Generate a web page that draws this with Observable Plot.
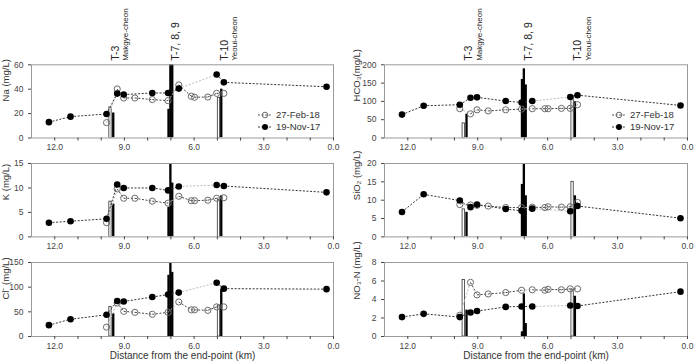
<!DOCTYPE html>
<html>
<head>
<meta charset="utf-8">
<script src="https://cdn.jsdelivr.net/npm/d3@7"></script>
<script src="https://cdn.jsdelivr.net/npm/@observablehq/plot@0.6"></script>
<style>
  body { margin: 0; background: #fff; }
  #chart { position: relative; width: 694px; height: 362px; overflow: hidden; background: #fff;
           font-family: "Liberation Sans", Arial, sans-serif; }
  #chart svg { position: absolute; overflow: visible; }
</style>
</head>
<body>
<div id="chart"></div>
<script>
// Sampling positions along the main stream (km from the end-point)
const kmNov = [12.25, 11.32, 9.77, 9.31, 9.03, 7.80, 7.12, 6.66, 5.03, 4.72, 0.30];
const kmFeb = [9.77, 9.31, 9.03, 8.55, 7.80, 7.12, 6.66, 6.12, 5.98, 5.41, 5.03, 4.72];

// Tributary inflow samples (bars): T-3, T-7/8/9, T-10
const barKm     = [9.60, 9.46, 7.08, 7.00, 6.92, 4.93, 4.81];
const barSurvey = ["Feb", "Nov", "Nov", "Nov", "Nov", "Feb", "Nov"];

// Tributary labels
const tributaries = [
  { name: "T-3", km: 9.55, stream: "Makgye-cheon" },
  { name: "T-7, 8, 9", km: 6.98, stream: "" },
  { name: "T-10", km: 4.87, stream: "Yeoui-cheon" }
];

// Main-stream concentrations, 19-Nov-17 and 27-Feb-18
const naNov   = [13, 17.5, 19.7, 36.4, 35.6, 36.9, 36.9, 40.5, 52, 45.6, 42];
const naFeb   = [12.6, 40.2, 32.8, 32.8, 31.5, 30.6, 43.5, 34.2, 33.4, 33.6, 36.6, 36.6];
const kNov    = [2.9, 3.2, 3.7, 10.7, 10.0, 10.0, 9.5, 10.3, 10.6, 10.4, 9.1];
const kFeb    = [2.9, 9.8, 7.9, 7.9, 7.3, 6.9, 8.3, 7.4, 7.4, 7.5, 7.9, 8.0];
const clNov   = [23, 35, 44, 72, 71, 80, 85, 89, 109, 97, 96];
const clFeb   = [19, 68, 51, 49, 45, 49, 70, 54, 54, 53, 60, 60];
const hco3Nov = [64, 88, 91, 110, 111, 101, 97, 101, 112, 117, 89];
const hco3Feb = [80, 66, 77, 74, 77, 79, 80, 80, 80, 81, 81, 91];
const sio2Nov = [6.8, 11.6, 9.9, 8.1, 8.8, 7.6, 7.1, 7.7, 7.0, 8.4, 5.1];
const sio2Feb = [8.8, 8.7, 8.6, 8.4, 8.0, 8.0, 8.1, 8.0, 8.2, 8.1, 8.2, 9.4];
const no3Nov  = [2.1, 2.45, 2.1, 2.6, 2.75, 3.2, 3.25, 3.25, 3.35, 3.3, 4.85];
const no3Feb  = [2.3, 5.85, 4.5, 4.6, 4.75, 5.0, 5.05, 5.0, 5.1, 5.05, 5.15, 5.15];

// Tributary concentrations, in barKm order
const naBar   = [25, 20.5, 23.5, 75, 68, 33, 40];
const kBar    = [7.2, 6.7, 6.0, 18, 11, 7.5, 8.4];
const clBar   = [60, 46, 124, 180, 130, 63, 95];
const hco3Bar = [40, 65, 160, 189, 145, 115, 99];
const sio2Bar = [7.5, 6.7, 14.3, 22, 11.2, 15, 11.2];
const no3Bar  = [6.1, 2.85, 0.5, 4.6, 1.4, 5.0, 4.35];

// Segments (by start index) drawn faintly where the line jumps across a confluence
const novFaint = [7];
const febFaint = [0, 5];

const FONT = '"Liberation Sans", Arial, sans-serif';
const BAR_HALF = 0.05;
const chart = document.getElementById("chart");

function links(km, vals, faint, wantFaint) {
  const out = [];
  for (let i = 0; i < km.length - 1; i++) {
    if (faint.includes(i) !== wantFaint) continue;
    out.push({ x1: km[i], y1: vals[i], x2: km[i + 1], y2: vals[i + 1] });
  }
  return out;
}

function panel(cfg) {
  const nov = kmNov.map((km, i) => ({ km, v: cfg.nov[i] }));
  const feb = kmFeb.map((km, i) => ({ km, v: cfg.feb[i] }));
  const bars = barKm.map((km, i) => ({ km, v: cfg.bars[i], survey: barSurvey[i] }));
  const dash = "2,1.6";
  const marks = [
    Plot.rect(bars.filter(d => d.survey === "Feb"), {
      x1: d => d.km + BAR_HALF, x2: d => d.km - BAR_HALF, y1: 0, y2: "v",
      fill: "white", stroke: "#333", strokeWidth: 0.8, clip: true
    }),
    Plot.rect(bars.filter(d => d.survey === "Nov"), {
      x1: d => d.km + BAR_HALF, x2: d => d.km - BAR_HALF, y1: 0, y2: "v",
      fill: "black", clip: true
    }),
    Plot.link(links(kmFeb, cfg.feb, febFaint, true), { x1: "x1", y1: "y1", x2: "x2", y2: "y2", stroke: "#bdbdbd", strokeWidth: 1, strokeDasharray: dash }),
    Plot.link(links(kmNov, cfg.nov, novFaint, true), { x1: "x1", y1: "y1", x2: "x2", y2: "y2", stroke: "#bdbdbd", strokeWidth: 1, strokeDasharray: dash }),
    Plot.link(links(kmFeb, cfg.feb, febFaint, false), { x1: "x1", y1: "y1", x2: "x2", y2: "y2", stroke: "#444", strokeWidth: 1, strokeDasharray: dash }),
    Plot.link(links(kmNov, cfg.nov, novFaint, false), { x1: "x1", y1: "y1", x2: "x2", y2: "y2", stroke: "#333", strokeWidth: 1, strokeDasharray: dash }),
    Plot.dot(feb, { x: "km", y: "v", r: 3.1, stroke: "#6a6a6a", strokeWidth: 1, fill: "none" }),
    Plot.dot(nov, { x: "km", y: "v", r: 3.3, fill: "black" }),
    Plot.frame({ stroke: "#9a9a9a" }),
    Plot.axisX({
      ticks: d3.range(0, 13), tickFormat: d => d % 3 === 0 ? d.toFixed(1) : "",
      tickSize: 3, tickPadding: 3, fontSize: 8.5, color: "#444", label: null
    }),
    Plot.axisY({ ticks: cfg.yTicks, tickSize: 3, tickPadding: 5, fontSize: 8.5, color: "#444", label: null }),
    Plot.text([cfg.yLabel], {
      text: d => d, frameAnchor: "left", dx: cfg.labelDx, rotate: -90,
      fontSize: 9.5, fill: "#333"
    })
  ];
  if (cfg.annotate) {
    marks.push(Plot.text(tributaries, {
      x: "km", text: "name", frameAnchor: "top", dy: -4, rotate: -90,
      textAnchor: "start", fontSize: 10.5, fill: "#222"
    }));
    marks.push(Plot.text(tributaries.filter(d => d.stream), {
      x: "km", text: "stream", frameAnchor: "top", dx: 11, dy: -4, rotate: -90,
      textAnchor: "start", fontSize: 8, fill: "#222"
    }));
  }
  if (cfg.xLabel) {
    marks.push(Plot.text([cfg.xLabel], {
      text: d => d, frameAnchor: "bottom", dy: 22, fontSize: 10, fill: "#333"
    }));
  }
  const svg = Plot.plot({
    width: 347,
    height: cfg.mT + cfg.frameH + cfg.mB,
    marginLeft: cfg.mL, marginRight: cfg.mR, marginTop: cfg.mT, marginBottom: cfg.mB,
    x: { domain: [13, 0] },
    y: { domain: cfg.yDomain },
    style: { fontFamily: FONT, background: "transparent", overflow: "visible" },
    marks
  });
  svg.style.left = cfg.left + "px";
  svg.style.top = (cfg.frameTop - cfg.mT) + "px";
  chart.appendChild(svg);
}

function legend(left, top) {
  const svg = d3.select(chart).append("svg")
    .attr("width", 90).attr("height", 28)
    .style("left", left + "px").style("top", top + "px");
  const rows = [
    { label: "27-Feb-18", filled: false, y: 7 },
    { label: "19-Nov-17", filled: true, y: 19 }
  ];
  const g = svg.selectAll("g").data(rows).join("g").attr("transform", d => `translate(0,${d.y})`);
  g.append("line").attr("x1", 2).attr("x2", 16).attr("stroke", d => d.filled ? "#333" : "#555")
    .attr("stroke-dasharray", "2,1.6");
  g.append("circle").attr("cx", 9).attr("r", d => d.filled ? 3 : 2.8)
    .attr("fill", d => d.filled ? "black" : "none")
    .attr("stroke", d => d.filled ? "none" : "#6a6a6a");
  g.append("text").attr("x", 20).attr("dy", "0.35em").attr("font-size", 9.5)
    .attr("font-family", FONT).attr("fill", "#333").text(d => d.label);
}

const leftCol = { left: 0, mL: 31, mR: 14, labelDx: -26 };
const rightCol = { left: 347, mL: 37, mR: 7, labelDx: -28 };
const row0 = { frameTop: 64.3, frameH: 73.2, mT: 64.3, mB: 18 };
const row1 = { frameTop: 163.3, frameH: 73.4, mT: 12, mB: 18 };
const row2 = { frameTop: 262.3, frameH: 74, mT: 12, mB: 26 };

panel({ ...leftCol, ...row0, nov: naNov, feb: naFeb, bars: naBar, yDomain: [0, 60], yTicks: [0, 20, 40, 60], yLabel: "Na (mg/L)", annotate: true });
panel({ ...leftCol, ...row1, nov: kNov, feb: kFeb, bars: kBar, yDomain: [0, 15], yTicks: [0, 5, 10, 15], yLabel: "K (mg/L)" });
panel({ ...leftCol, ...row2, nov: clNov, feb: clFeb, bars: clBar, yDomain: [0, 150], yTicks: [0, 50, 100, 150], yLabel: "Cl⁻ (mg/L)", xLabel: "Distance from the end-point (km)" });
panel({ ...rightCol, ...row0, nov: hco3Nov, feb: hco3Feb, bars: hco3Bar, yDomain: [0, 200], yTicks: [0, 50, 100, 150, 200], yLabel: "HCO₃(mg/L)", annotate: true });
panel({ ...rightCol, ...row1, nov: sio2Nov, feb: sio2Feb, bars: sio2Bar, yDomain: [0, 20], yTicks: [0, 5, 10, 15, 20], yLabel: "SiO₂ (mg/L)" });
panel({ ...rightCol, ...row2, nov: no3Nov, feb: no3Feb, bars: no3Bar, yDomain: [0, 8], yTicks: [0, 2, 4, 6, 8], yLabel: "NO₃-N (mg/L)", xLabel: "Distance from the end-point (km)" });

legend(256, 108);
legend(610, 108);
</script>
</body>
</html>
